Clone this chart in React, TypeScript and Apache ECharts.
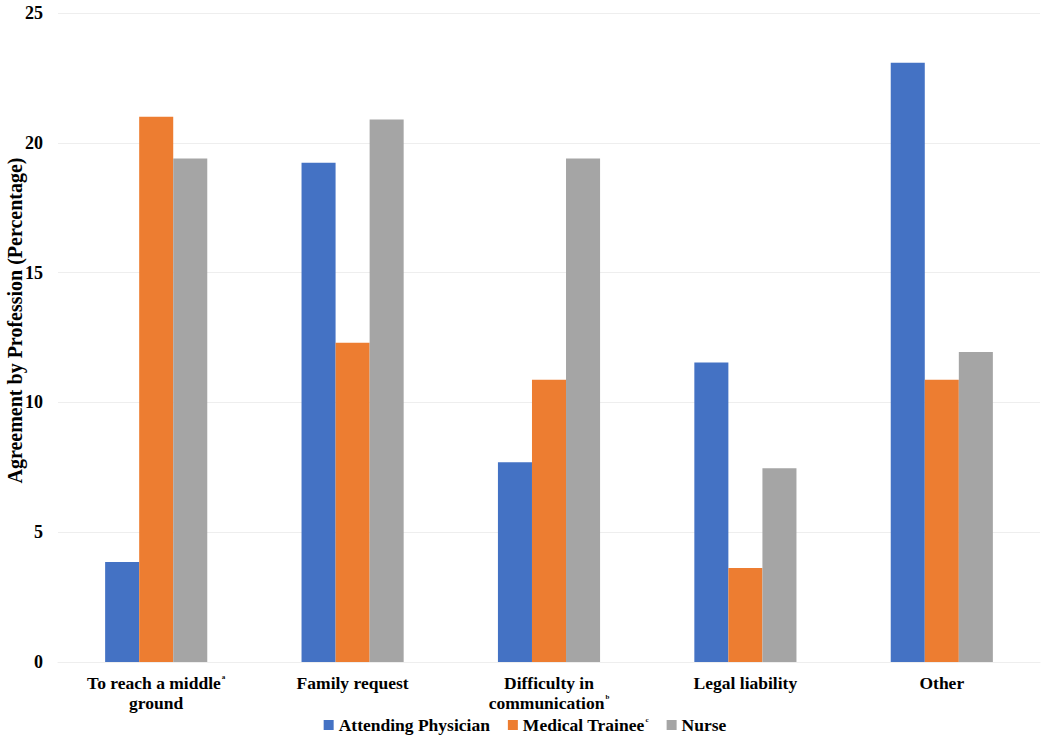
import React, { useEffect, useRef } from "react";
import * as echarts from "echarts";

const categories = [
  "To reach a middle{sup|a}\nground",
  "Family request",
  "Difficulty in\ncommunication{sup|b}",
  "Legal liability",
  "Other",
];
const attendingPhysician = [3.85, 19.23, 7.69, 11.54, 23.08];
const medicalTrainee = [21.0, 12.3, 10.87, 3.62, 10.87];
const nurse = [19.4, 20.9, 19.4, 7.46, 11.94];
const seriesNames = ["Attending Physician", "Medical Trainee", "Nurse"];
const colors = ["#4472C4", "#ED7D31", "#A5A5A5"];

const FONT = "'Liberation Serif', 'Times New Roman', serif";

export default function App() {
  const ref = useRef<HTMLDivElement>(null);
  useEffect(() => {
    document.body.style.margin = "0";
    if (!ref.current) return;
    const chart = echarts.init(ref.current, null, { renderer: "svg" });
    const sup = { fontSize: 7, fontFamily: FONT, fontWeight: "bold", color: "#000", verticalAlign: "top", padding: [0, 0, 10, 1] };
    chart.setOption({
      animation: false,
      textStyle: { fontFamily: FONT },
      grid: { left: 58, right: 10, top: 13, bottom: 80, containLabel: false, outerBoundsMode: "none" },
      legend: {
        top: 711,
        left: "center",
        itemWidth: 10,
        itemHeight: 10,
        itemGap: 18,
        icon: "rect",
        textStyle: {
          fontFamily: FONT,
          fontSize: 17.5,
          fontWeight: "bold",
          color: "#000",
          rich: { sup },
        },
        formatter: (name: string) => (name === "Medical Trainee" ? name + "{sup|c}" : name),
        data: seriesNames,
      },
      xAxis: {
        type: "category",
        data: categories,
        axisLine: { show: true, lineStyle: { color: "#eeeeee", width: 1 } },
        axisTick: { show: false },
        axisLabel: {
          interval: 0,
          margin: 11,
          fontFamily: FONT,
          fontSize: 17.5,
          fontWeight: "bold",
          color: "#000",
          lineHeight: 20,
          rich: { sup },
        },
      },
      yAxis: {
        type: "value",
        min: 0,
        max: 25,
        interval: 5,
        name: "Agreement by Profession (Percentage)",
        nameLocation: "middle",
        nameGap: 33,
        nameMoveOverlap: false,
        nameTextStyle: { fontFamily: FONT, fontSize: 20, fontWeight: "bold", color: "#000", padding: [0, 0, 0, 34] },
        axisLine: { show: false },
        axisTick: { show: false },
        axisLabel: { margin: 15, fontFamily: FONT, fontSize: 18, fontWeight: "bold", color: "#000" },
        splitLine: { lineStyle: { color: "#eeeeee", width: 1 } },
      },
      series: [
        { name: seriesNames[0], type: "bar", data: attendingPhysician, itemStyle: { color: colors[0] }, barGap: "0%", barCategoryGap: "48%" },
        { name: seriesNames[1], type: "bar", data: medicalTrainee, itemStyle: { color: colors[1] }, barGap: "0%", barCategoryGap: "48%" },
        { name: seriesNames[2], type: "bar", data: nurse, itemStyle: { color: colors[2] }, barGap: "0%", barCategoryGap: "48%" },
      ],
    });
    return () => chart.dispose();
  }, []);
  return <div ref={ref} style={{ width: 1050, height: 742 }} />;
}
